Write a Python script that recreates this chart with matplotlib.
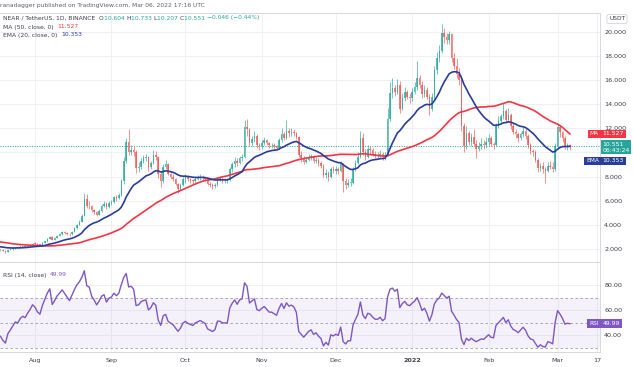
import numpy as np
import pandas as pd
import matplotlib
matplotlib.use("Agg")
import matplotlib.pyplot as plt
import matplotlib.transforms as mtransforms

# ---- NEAR / TetherUS daily candles (Binance) ----
start_date = "2021-07-18"

# closes before the visible window (May 30 - Jul 17), only used to warm up MA / EMA / RSI
warmup_close = [3.2, 3.4, 3.5, 3.6, 3.4, 3.3, 3.1,
                3.2, 3.1, 2.8, 3.0, 2.9, 2.8, 2.7,
                2.9, 3.1, 3.2, 3.0, 2.9, 2.8, 2.6,
                2.6, 2.1, 2.0, 2.3, 2.2, 2.0, 2.1,
                2.3, 2.4, 2.5, 2.4, 2.3, 2.3, 2.4,
                2.5, 2.4, 2.5, 2.4, 2.3, 2.3, 2.2,
                2.2, 2.1, 2.0, 2.0, 1.95, 1.95, 1.9]

close_jul = [1.95, 1.85, 1.78, 1.92, 1.98, 2.05, 2.12, 2.10, 2.18, 2.22, 2.20, 2.28, 2.35, 2.45]
high_jul = [2.00, 1.98, 1.88, 1.95, 2.02, 2.08, 2.16, 2.15, 2.30, 2.26, 2.30, 2.32, 2.40, 2.52]
low_jul = [1.86, 1.82, 1.70, 1.76, 1.88, 1.95, 2.02, 2.05, 2.08, 2.10, 2.16, 2.18, 2.22, 2.33]

close_aug = [2.42, 2.36, 2.33, 2.50, 2.65, 2.85, 3.02, 2.78, 2.92, 3.10, 3.22, 3.38, 3.32, 3.26, 3.20, 3.42,
             3.70, 4.00, 4.25, 4.75, 6.10, 5.60, 5.55, 5.20, 5.05, 4.85, 5.15, 5.60, 5.75, 5.45, 5.80]
high_aug = [2.55, 2.48, 2.42, 2.55, 2.70, 2.92, 3.10, 3.05, 2.98, 3.18, 3.30, 3.45, 3.45, 3.38, 3.32, 3.50,
            3.80, 4.10, 4.40, 4.90, 6.60, 6.55, 5.95, 5.65, 5.35, 5.15, 5.30, 5.75, 5.95, 5.85, 5.95]
low_aug = [2.36, 2.30, 2.25, 2.30, 2.48, 2.60, 2.80, 2.72, 2.75, 2.88, 3.05, 3.18, 3.22, 3.15, 3.08, 3.18,
           3.38, 3.65, 3.95, 4.20, 4.70, 5.40, 5.30, 5.05, 4.90, 4.75, 4.80, 5.10, 5.50, 5.35, 5.40]

close_sep = [5.90, 6.30, 6.20, 6.45, 7.60, 9.30, 10.90, 10.00, 10.20, 10.00, 8.70, 8.80, 9.30, 9.50, 9.60,
             8.80, 9.10, 9.80, 9.60, 8.20, 7.60, 8.80, 9.00, 8.20, 8.00, 7.80, 7.40, 7.00, 7.30, 7.80]
high_sep = [6.05, 6.40, 6.45, 6.60, 7.80, 9.60, 11.20, 11.90, 10.60, 10.50, 10.20, 9.20, 9.50, 9.80, 9.90,
            9.70, 9.30, 10.20, 10.10, 9.70, 8.40, 9.00, 9.40, 9.10, 8.40, 8.20, 7.90, 7.50, 7.50, 7.95]
low_sep = [5.65, 5.80, 6.00, 6.10, 6.35, 7.40, 9.10, 9.80, 9.80, 9.70, 8.30, 8.40, 8.60, 9.10, 9.30,
           8.50, 8.60, 9.00, 9.40, 7.90, 7.10, 7.50, 8.60, 8.10, 7.80, 7.60, 7.30, 6.60, 6.90, 7.20]

close_oct = [8.00, 7.80, 7.70, 7.60, 7.80, 7.90, 8.00, 7.90, 7.80, 7.40, 7.30, 7.20, 7.30, 7.80, 7.80, 7.70,
             7.70, 7.70, 8.60, 9.00, 9.30, 9.10, 9.50, 9.60, 12.10, 11.90, 10.80, 11.10, 11.40, 10.60, 10.50]
high_oct = [8.20, 8.15, 7.90, 7.80, 8.00, 8.10, 8.25, 8.10, 8.00, 7.90, 7.55, 7.45, 7.50, 8.00, 8.05, 7.95,
            7.85, 7.90, 8.80, 9.20, 9.60, 9.50, 9.70, 9.90, 12.70, 12.80, 12.00, 11.40, 11.80, 11.50, 10.80]
low_oct = [7.50, 7.65, 7.50, 7.35, 7.50, 7.70, 7.75, 7.70, 7.65, 7.30, 7.10, 7.00, 7.05, 7.20, 7.60, 7.50,
           7.45, 7.50, 7.60, 8.40, 8.80, 8.90, 9.00, 9.30, 9.50, 11.40, 10.50, 10.50, 10.90, 10.40, 10.20]

close_nov = [10.8, 11.0, 10.8, 10.6, 10.6, 10.5, 10.4, 11.0, 11.5, 11.2, 11.8, 11.6, 11.7, 11.6, 11.3,
             9.8, 9.5, 9.2, 9.4, 9.6, 9.7, 9.3, 9.4, 9.1, 8.9, 8.1, 8.3, 8.0, 8.6, 8.5]
high_nov = [11.0, 11.3, 11.1, 10.9, 10.8, 10.8, 10.6, 11.2, 12.0, 11.7, 12.7, 12.0, 12.0, 11.9, 11.7,
            11.4, 10.1, 9.7, 9.6, 9.9, 9.9, 9.8, 9.6, 9.5, 9.3, 9.0, 8.6, 8.5, 8.8, 8.9]
low_nov = [10.3, 10.6, 10.6, 10.4, 10.4, 10.3, 10.2, 10.3, 10.9, 11.0, 11.1, 11.3, 11.4, 11.4, 11.1,
           9.6, 9.2, 9.0, 9.1, 9.3, 9.4, 9.1, 9.1, 8.9, 8.7, 8.0, 7.9, 7.6, 7.9, 8.3]

close_dec = [8.6, 8.5, 9.0, 7.6, 7.3, 7.5, 7.5, 8.6, 9.1, 9.6, 11.2, 10.0, 9.6, 10.3, 10.2, 9.9,
             9.7, 9.7, 9.9, 9.6, 9.8, 12.8, 14.9, 15.3, 15.0, 15.6, 13.6, 14.5, 15.0, 14.6, 14.5]
high_dec = [8.9, 8.8, 9.3, 9.1, 7.9, 7.8, 7.9, 8.8, 9.4, 10.0, 11.8, 11.6, 10.3, 10.6, 10.5, 10.4,
            10.1, 10.0, 10.2, 10.0, 10.0, 13.7, 15.8, 16.2, 15.6, 16.1, 15.9, 14.9, 15.4, 15.2, 14.9]
low_dec = [8.2, 8.2, 8.4, 6.7, 7.0, 7.1, 7.2, 7.4, 8.5, 9.0, 9.5, 9.8, 9.4, 9.5, 9.9, 9.7,
           9.5, 9.5, 9.6, 9.4, 9.4, 9.7, 12.6, 14.5, 14.7, 14.8, 13.3, 13.5, 14.3, 14.4, 14.1]

close_jan = [15.0, 15.4, 16.2, 15.6, 14.8, 15.2, 14.6, 13.6, 14.6, 16.8, 17.8, 18.4, 19.9, 19.6, 19.3, 19.8,
             17.8, 17.2, 16.5, 16.0, 12.2, 10.5, 11.6, 10.9, 11.3, 10.7, 10.3, 10.5, 10.7, 10.6, 10.9]
high_jan = [15.3, 15.8, 17.6, 16.4, 15.9, 15.6, 15.4, 14.8, 14.9, 17.2, 18.3, 18.9, 20.6, 20.3, 19.9, 20.1,
            19.9, 18.2, 17.8, 17.0, 16.4, 12.4, 12.2, 11.8, 11.6, 11.9, 11.0, 10.9, 11.2, 11.0, 11.3]
low_jan = [14.3, 14.8, 15.2, 15.3, 14.5, 14.6, 14.4, 13.1, 13.4, 14.4, 16.5, 17.5, 18.2, 19.1, 19.0, 19.0,
           17.5, 16.9, 16.2, 15.6, 11.8, 10.0, 10.3, 10.6, 10.5, 10.5, 9.5, 10.1, 10.3, 10.3, 10.4]

close_feb = [11.2, 10.7, 10.6, 12.2, 12.6, 13.0, 13.4, 12.7, 13.1, 12.2, 11.7, 11.5, 11.2, 11.5,
             11.8, 11.4, 10.6, 10.1, 10.0, 9.4, 8.7, 8.9, 8.6, 8.5, 8.9, 8.8, 8.6, 10.5]
high_feb = [11.5, 11.4, 10.9, 12.4, 13.0, 13.2, 14.1, 13.6, 13.7, 13.3, 12.4, 11.9, 11.7, 11.7,
            12.1, 12.0, 11.5, 10.8, 10.3, 10.2, 9.5, 9.1, 9.2, 8.8, 9.2, 9.3, 9.2, 10.8]
low_feb = [10.6, 10.5, 10.3, 10.5, 12.0, 12.4, 12.8, 12.4, 12.5, 11.9, 11.5, 11.2, 10.9, 11.0,
           11.3, 11.1, 10.4, 9.9, 9.7, 9.2, 8.4, 8.5, 8.3, 7.5, 8.4, 8.6, 8.4, 8.5]

close_mar = [12.1, 11.7, 11.2, 10.5, 10.604, 10.551]
high_mar = [12.4, 12.3, 11.8, 11.4, 10.8, 10.733]
low_mar = [10.4, 11.3, 10.9, 10.3, 10.2, 10.207]

# values printed in the chart's legends / tags
shown_ohlc = [("O", "10.604"), ("H", "10.733"), ("L", "10.207"), ("C", "10.551")]
shown_change = "\u22120.046 (\u22120.44%)"
shown_ma = "11.527"
shown_ema = "10.353"
shown_rsi = "49.99"
shown_last = "10.551"
shown_countdown = "06:43:24"

month_labels = ["Aug", "Sep", "Oct", "Nov", "Dec", "2022", "Feb", "Mar", "17"]
month_dates = ["2021-08-01", "2021-09-01", "2021-10-01", "2021-11-01", "2021-12-01",
               "2022-01-01", "2022-02-01", "2022-03-01", "2022-03-17"]
price_ticks = [2, 4, 6, 8, 10, 12, 14, 16, 18, 20]
hidden_price_ticks = [10]  # covered by the last-price tag in the chart
rsi_ticks = [40, 60, 80]

closes = np.array(close_jul + close_aug + close_sep + close_oct + close_nov + close_dec
                  + close_jan + close_feb + close_mar)
highs = np.array(high_jul + high_aug + high_sep + high_oct + high_nov + high_dec
                 + high_jan + high_feb + high_mar)
lows = np.array(low_jul + low_aug + low_sep + low_oct + low_nov + low_dec
                + low_jan + low_feb + low_mar)
# daily crypto candles open at the previous close
opens = np.concatenate([[warmup_close[-1]], closes[:-1]])
x = np.arange(len(closes))

# ---- indicators ----
all_close = pd.Series(warmup_close + list(closes))
n0 = len(warmup_close)
ma50 = all_close.rolling(50).mean().values[n0:]
ema20 = all_close.ewm(span=20, adjust=False).mean().values[n0:]
delta = all_close.diff()
gain = delta.clip(lower=0).ewm(alpha=1 / 14, adjust=False).mean()
loss = (-delta.clip(upper=0)).ewm(alpha=1 / 14, adjust=False).mean()
rsi = (100 - 100 / (1 + gain / loss)).values[n0:]

start = pd.Timestamp(start_date)
month_pos = [(pd.Timestamp(d) - start).days for d in month_dates]

# ---- colours ----
UP = "#26a69a"
DOWN = "#ef5350"
MA_COL = "#f23645"
EMA_COL = "#2a3d98"
RSI_COL = "#7e57c2"
GRID = "#eef0f4"
LINE = "#d6d8de"
TXT = "#3c3f48"

W, H = 633, 367
fig = plt.figure(figsize=(W / 100, H / 100), dpi=100)
fig.patch.set_facecolor("white")


def fx(px):
    return px / W


def fy(py):
    return 1 - py / H


ax = fig.add_axes([0, fy(262), fx(600), fy(13) - fy(262)])
rax = fig.add_axes([0, fy(352), fx(600), fy(263) - fy(352)])

xlim = (-0.2, 243.2)

# ---- price pane ----
ax.set_xlim(*xlim)
ax.set_ylim(0.92, 21.55)
ax.set_xticks(month_pos)
ax.set_xticklabels([])
ax.set_yticks(price_ticks)
ax.set_yticklabels(["" if t in hidden_price_ticks else "%.3f" % t for t in price_ticks])
ax.yaxis.tick_right()
ax.tick_params(axis="y", length=0, pad=3, labelsize=4.6, labelcolor=TXT)
ax.tick_params(axis="x", length=0)
ax.grid(True, color=GRID, linewidth=0.7)
ax.set_axisbelow(True)
ax.spines["left"].set_visible(False)
for side in ["right", "bottom", "top"]:
    ax.spines[side].set_color(LINE)
    ax.spines[side].set_linewidth(0.7)

colors = np.where(closes >= opens, UP, DOWN)
ax.vlines(x, lows, highs, color=colors, linewidth=0.6, alpha=0.75, zorder=2)
body = np.maximum(np.abs(closes - opens), 0.04)
ax.bar(x, body, bottom=np.minimum(opens, closes), width=0.62, color=colors,
       linewidth=0, alpha=0.75, zorder=2)

ax.plot(x, ma50, color=MA_COL, linewidth=1.2, zorder=3)
ax.plot(x, ema20, color=EMA_COL, linewidth=1.2, zorder=4)
ax.axhline(closes[-1], color=UP, linestyle=(0, (1, 1.5)), linewidth=0.7, zorder=1)

# right-side value tags
trans = mtransforms.blended_transform_factory(ax.transAxes, ax.transData)
ax.text(1.004, ma50[-1], shown_ma, transform=trans, fontsize=4.4, color="white",
        va="center", ha="left", clip_on=False,
        bbox=dict(boxstyle="square,pad=0.3", fc=MA_COL, ec="none"))
ax.text(0.998, ma50[-1], "MA", transform=trans, fontsize=4.2, color="white",
        va="center", ha="right", clip_on=False,
        bbox=dict(boxstyle="square,pad=0.3", fc=MA_COL, ec="none"))
ax.annotate(shown_last + "\n" + shown_countdown, xy=(1.004, closes[-1]), xycoords=trans,
            xytext=(0, 3.0), textcoords="offset points", fontsize=4.4, color="white",
            va="top", ha="left", linespacing=1.25, annotation_clip=False,
            bbox=dict(boxstyle="square,pad=0.3", fc=UP, ec="none"))
ax.annotate(shown_ema, xy=(1.004, ema20[-1]), xycoords=trans,
            xytext=(0, -10.5), textcoords="offset points", fontsize=4.4, color="white",
            va="center", ha="left", annotation_clip=False,
            bbox=dict(boxstyle="square,pad=0.3", fc=EMA_COL, ec="none"))
ax.annotate("EMA", xy=(0.998, ema20[-1]), xycoords=trans,
            xytext=(0, -10.5), textcoords="offset points", fontsize=4.2, color="white",
            va="center", ha="right", annotation_clip=False,
            bbox=dict(boxstyle="square,pad=0.3", fc=EMA_COL, ec="none"))

fig.text(fx(617), fy(19), "USDT", fontsize=4.2, color=TXT, ha="center", va="center",
         bbox=dict(boxstyle="round,pad=0.35,rounding_size=0.3", fc="white", ec="#c9ccd3", lw=0.5))

# ---- RSI pane ----
rax.set_xlim(*xlim)
rax.set_ylim(26.4, 97.6)
rax.axhspan(30, 70, color=RSI_COL, alpha=0.08, linewidth=0)
for lvl in [70, 50, 30]:
    rax.axhline(lvl, color="#9a9ca5", linewidth=0.6, linestyle=(0, (3, 3)))
rax.plot(x, rsi, color=RSI_COL, linewidth=1.0)
rax.set_yticks(rsi_ticks)
rax.set_yticklabels(["%.2f" % t for t in rsi_ticks])
rax.yaxis.tick_right()
rax.tick_params(axis="y", length=0, pad=3, labelsize=4.6, labelcolor=TXT)
rax.set_xticks(month_pos)
rax.set_xticklabels(month_labels)
rax.tick_params(axis="x", length=0, pad=4, labelsize=4.6, labelcolor=TXT)
for lab in rax.get_xticklabels():
    if lab.get_text() == "2022":
        lab.set_fontweight("bold")
rax.grid(True, color=GRID, linewidth=0.7)
rax.set_axisbelow(True)
for side in ["left", "top"]:
    rax.spines[side].set_visible(False)
for side in ["right", "bottom"]:
    rax.spines[side].set_color(LINE)
    rax.spines[side].set_linewidth(0.7)

rtrans = mtransforms.blended_transform_factory(rax.transAxes, rax.transData)
rax.text(1.004, rsi[-1], shown_rsi, transform=rtrans, fontsize=4.4, color="white",
         va="center", ha="left", clip_on=False,
         bbox=dict(boxstyle="square,pad=0.3", fc=RSI_COL, ec="none"))
rax.text(0.998, rsi[-1], "RSI", transform=rtrans, fontsize=4.2, color="white",
         va="center", ha="right", clip_on=False,
         bbox=dict(boxstyle="square,pad=0.3", fc=RSI_COL, ec="none"))

# ---- header / legends ----
renderer = fig.canvas.get_renderer()


def text_row(x_px, y_px, pieces, size=4.3):
    xp = x_px
    for s, c in pieces:
        t = fig.text(fx(xp), fy(y_px), s, color=c, fontsize=size, va="center", ha="left")
        xp += t.get_window_extent(renderer).width


fig.text(fx(0), fy(6), "ranadagger published on TradingView.com, Mar 06, 2022 17:16 UTC",
         fontsize=4.3, color="#5d606b", va="center", ha="left")
row = [("NEAR / TetherUS, 1D, BINANCE  ", TXT)]
for k, v in shown_ohlc:
    row += [(k, TXT), (v + " ", UP)]
row.append((shown_change, UP))
text_row(3, 18, row)
text_row(3, 27, [("MA (50, close, 0)  ", TXT), (shown_ma, MA_COL)])
text_row(3, 35, [("EMA (20, close, 0)  ", TXT), (shown_ema, EMA_COL)])
text_row(3, 275, [("RSI (14, close)  ", TXT), (shown_rsi, RSI_COL)])

fig.savefig("out.png", dpi=100)
